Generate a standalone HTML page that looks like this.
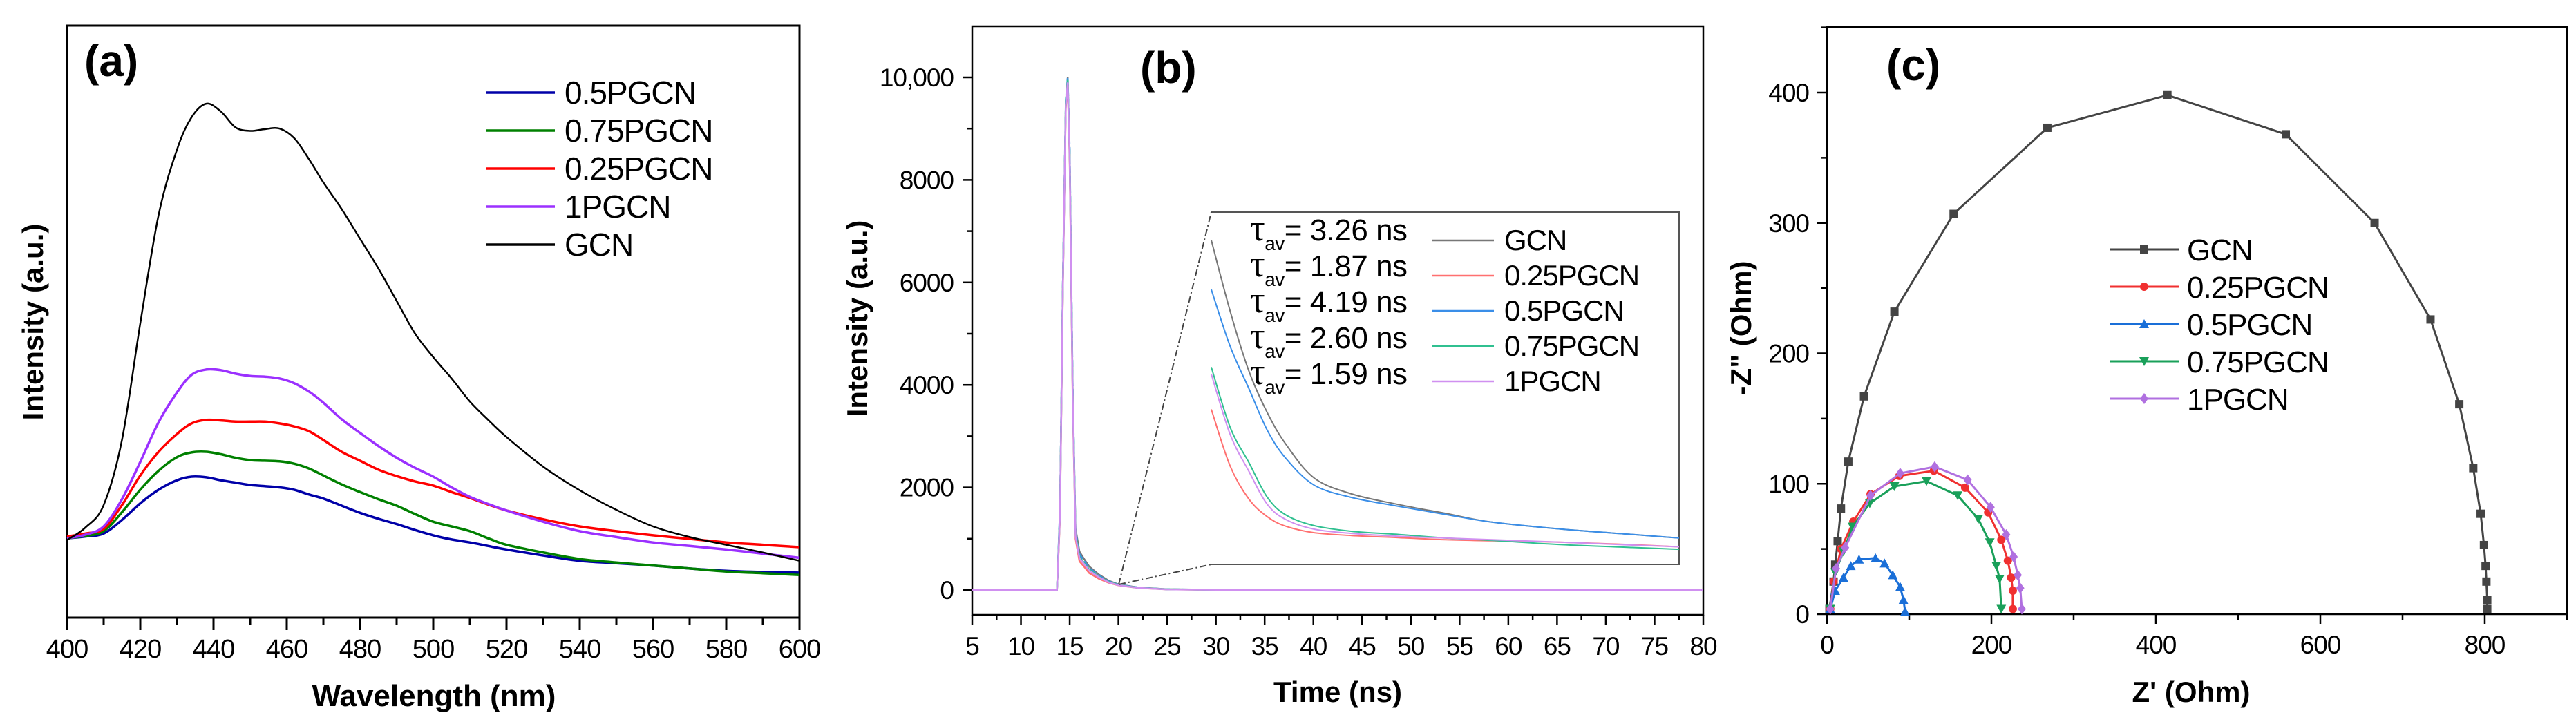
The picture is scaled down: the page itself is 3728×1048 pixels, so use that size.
<!DOCTYPE html>
<html><head><meta charset="utf-8"><style>
html,body{margin:0;padding:0;background:#fff;}
svg{display:block;font-family:"Liberation Sans",Arial,sans-serif;}
</style></head><body>
<svg id="fig" width="3728" height="1048" viewBox="0 0 3728 1048" xmlns="http://www.w3.org/2000/svg"></svg>
<script>
// ---------- Panel (a) data ----------
const aWl = [400,405,410,415,420,425,430,434,438,442,446,450,454,458,462,466,470,475,480,485,490,495,500,505,510,515,520,530,540,550,560,570,580,590,600];
const aGCN = [13.1,15.2,19,30,49.7,68,79,84.5,86.8,85.5,82.8,82.2,82.5,82.6,81,77.5,73.5,69,64,59,53.5,48,44,40.4,36.5,33.4,30.5,25.5,21.5,18.2,15.4,13.6,12.3,11,9.6];
const a1P  = [13.4,14,15.4,20,26.3,33,38,41,41.9,41.8,41.2,40.8,40.7,40.4,39.6,38.2,36.3,33.5,31.2,29,27,25.3,23.8,22,20.4,19.2,18.1,16.2,14.6,13.6,12.7,12.1,11.5,10.8,10.1];
const a025 = [13.7,14.2,15,19,24,28,31,32.8,33.4,33.3,33.1,33.1,33.1,32.8,32.3,31.5,30,28,26.5,25,23.9,23,22.3,21.2,20.2,19.1,18.1,16.6,15.4,14.6,13.9,13.3,12.7,12.3,11.9];
const a075 = [13.4,13.8,14.6,17.8,21.6,24.8,27.1,27.9,28,27.6,27,26.6,26.5,26.4,26,25.2,24,22.5,21.2,20,18.9,17.5,16.2,15.4,14.6,13.4,12.3,11,9.9,9.3,8.8,8.3,7.8,7.5,7.2];
const a05  = [13.4,13.7,14.2,16.5,19.3,21.6,23.2,23.8,23.7,23.2,22.8,22.4,22.2,22,21.6,20.8,20.1,18.9,17.7,16.7,15.8,14.8,13.9,13.2,12.7,12.1,11.5,10.5,9.6,9.2,8.8,8.3,7.9,7.7,7.6];
const aXTicks = [400,420,440,460,480,500,520,540,560,580,600];
// ---------- Panel (b) data ----------
const bT = [5,13.7,14.0,14.3,14.6,14.8,15.0,15.3,15.6,16,16.5,17,18,19,20,22,25,30,80];
const bGCN = [0,0,1500,6000,9500,10000,8500,4000,1200,750,600,460,300,180,110,50,15,5,0];
const b025 = [0,0,1400,5900,9400,9900,8300,3800,1000,560,450,330,220,140,90,40,12,4,0];
const b05  = [0,0,1600,6100,9550,10000,8600,4100,1150,700,560,430,280,170,105,48,14,5,0];
const b075 = [0,0,1500,6000,9500,9950,8450,3950,1100,650,520,400,260,160,100,45,13,4,0];
const b1P  = [0,0,1450,5950,9450,9900,8400,3900,1050,620,500,380,250,150,95,42,12,4,0];
const bXTicks = [5,10,15,20,25,30,35,40,45,50,55,60,65,70,75,80];
const bYTicks = [0,2000,4000,6000,8000,10000];
const bYLabels = ["0","2000","4000","6000","8000","10,000"];
// inset
const iT    = [0,0.04,0.08,0.12,0.16,0.22,0.3,0.4,0.5,0.6,0.75,0.9,1];
const iGCN  = [0.92,0.72,0.55,0.43,0.34,0.245,0.2,0.17,0.145,0.12,0.1,0.085,0.075];
const i05   = [0.78,0.62,0.50,0.38,0.30,0.225,0.19,0.165,0.142,0.12,0.1,0.085,0.075];
const i075  = [0.56,0.39,0.29,0.19,0.14,0.11,0.094,0.085,0.075,0.068,0.056,0.048,0.043];
const i1P   = [0.54,0.37,0.265,0.17,0.127,0.1,0.088,0.08,0.075,0.07,0.063,0.055,0.05];
const i025  = [0.44,0.28,0.186,0.135,0.108,0.09,0.082,0.076,0.07,0.067,0.063,0.056,0.05];
const tauLabels = ["3.26","1.87","4.19","2.60","1.59"];
// ---------- Panel (c) data ----------
const cGCNx = [3,8,10,13,17,26,45,82,154,268,414,558,666,734,769,786,795,799,801,802,803,803];
const cGCNy = [4,25,38,56,81,117,167,232,307,373,398,368,300,226,161,112,77,53,37,25,11,4];
const c025x = [4,8,17,32,53,88,130,168,196,212,220,224,226,226];
const c025y = [4,25,50,71,92,106,110,97,78,57,41,28,18,4];
const c05x  = [4,10,20,29,39,59,70,80,89,93,95];
const c05y  = [4,18,28,37,42,43,39,30,21,11,2];
const c075x = [4,10,20,31,52,82,121,159,184,198,206,210,212];
const c075y = [4,32,48,67,85,98,102,91,73,55,37,27,4];
const c1Px  = [4,11,22,53,89,131,171,199,218,227,232,235,237];
const c1Py  = [4,35,51,91,108,113,103,82,61,44,30,20,4];
const cXTicks = [0,200,400,600,800];
const cYTicks = [0,100,200,300,400];

const NS="http://www.w3.org/2000/svg";
const svg=document.getElementById('fig');
function el(tag,attrs,parent,text){const e=document.createElementNS(NS,tag);for(const k in attrs)e.setAttribute(k,attrs[k]);if(text!==undefined)e.textContent=text;(parent||svg).appendChild(e);return e;}
function grp(name){const g=el('g',{});


return g;}
function pathD(xs,ys,fx,fy){return xs.map((x,i)=>(i?'L':'M')+fx(x).toFixed(1)+' '+fy(ys[i]).toFixed(1)).join(' ');}
function smoothD(xs,ys,fx,fy){const P=xs.map((x,i)=>[fx(x),fy(ys[i])]);let d='M'+P[0][0].toFixed(1)+' '+P[0][1].toFixed(1);
for(let i=0;i<P.length-1;i++){const p0=P[Math.max(0,i-1)],p1=P[i],p2=P[i+1],p3=P[Math.min(P.length-1,i+2)];
const c1=[p1[0]+(p2[0]-p0[0])/6,p1[1]+(p2[1]-p0[1])/6],c2=[p2[0]-(p3[0]-p1[0])/6,p2[1]-(p3[1]-p1[1])/6];
d+=` C${c1[0].toFixed(1)} ${c1[1].toFixed(1)} ${c2[0].toFixed(1)} ${c2[1].toFixed(1)} ${p2[0].toFixed(1)} ${p2[1].toFixed(1)}`;}return d;}

// ================= Panel A =================
(function(){
const L=97,R=1157,T=37,B=894;
const fx=v=>L+(v-400)/200*(R-L), fy=v=>B-v*(B-T)/100;
const g=grp('panel-a');
const fr=el('rect',{x:L,y:T,width:R-L,height:B-T,fill:'none',stroke:'#000','stroke-width':3},g);


for(let v=400;v<=600;v+=10){const maj=v%20===0;el('line',{x1:fx(v),x2:fx(v),y1:B,y2:B+(maj?18:10),stroke:'#000','stroke-width':3},g);}
aXTicks.forEach(v=>{const t=el('text',{x:fx(v),y:952,'font-size':38,'text-anchor':'middle','letter-spacing':-1},g,String(v));

});
const series=[[a05,'#0000a8'],[a075,'#008000'],[a025,'#ff0000'],[a1P,'#9b30ff'],[aGCN,'#000']];
const names=['0.5PGCN','0.75PGCN','0.25PGCN','1PGCN','GCN'];
series.forEach((s,i)=>{const p=el('path',{d:smoothD(aWl,s[0],fx,fy),fill:'none',stroke:s[1],'stroke-width':i===4?2.5:3.5,'stroke-linejoin':'round'},g);

});
names.forEach((n,i)=>{const y=134+i*55;
el('line',{x1:703,x2:803,y1:y,y2:y,stroke:series[i][1],'stroke-width':3.5},g);
const t=el('text',{x:817,y:y+16,'font-size':46,'letter-spacing':-1},g,n);

});
const lab=el('text',{x:122,y:110,'font-size':64,'font-weight':'bold'},g,'(a)');


const xt=el('text',{x:628,y:1022,'font-size':44,'font-weight':'bold','text-anchor':'middle'},g,'Wavelength (nm)');


const yt=el('text',{x:0,y:0,'font-size':42,'font-weight':'bold','text-anchor':'middle',transform:'translate(62,466) rotate(-90)'},g,'Intensity (a.u.)');


})();

// ================= Panel B =================
(function(){
const L=1407,R=2465,T=38,B=890;
const fx=v=>L+(v-5)/75*(R-L), fy=v=>854-v*0.0742;
const g=grp('panel-b');
const fr=el('rect',{x:L,y:T,width:R-L,height:B-T,fill:'none',stroke:'#000','stroke-width':2.5},g);


for(let v=5;v<=80;v+=2.5){const maj=(v%5===0);el('line',{x1:fx(v),x2:fx(v),y1:B,y2:B+(maj?14:8),stroke:'#000','stroke-width':2.5},g);}
for(let v=0;v<=10000;v+=1000){const maj=v%2000===0;el('line',{x1:L,x2:L-(maj?14:8),y1:fy(v),y2:fy(v),stroke:'#000','stroke-width':2.5},g);}
bXTicks.forEach(v=>{const t=el('text',{x:fx(v),y:948,'font-size':37,'text-anchor':'middle','letter-spacing':-1},g,String(v));

});
bYTicks.forEach((v,i)=>{const t=el('text',{x:1380,y:fy(v)+13,'font-size':37,'text-anchor':'end','letter-spacing':-1},g,bYLabels[i]);

});
const cols=['#777','#ff7070','#3a8ee8','#30c090','#d090f0'];
const names=['GCN','0.25PGCN','0.5PGCN','0.75PGCN','1PGCN'];
[bGCN,b025,b05,b075,b1P].forEach((s,i)=>{const p=el('path',{d:pathD(bT,s,fx,fy),fill:'none',stroke:cols[i],'stroke-width':2.5,'stroke-dasharray':i===2?'10 4':'none'},g);

});
// inset
const IL=1753,IR=2430,IT=307,IB=817;
const ix=v=>IL+v*(IR-IL), iy=v=>IB-v*(IB-IT);
el('path',{d:`M${IL} ${IT} L${IR} ${IT} L${IR} ${IB} L${IL} ${IB}`,fill:'none',stroke:'#555','stroke-width':2},g);
el('line',{x1:1619,y1:846,x2:IL,y2:IT,stroke:'#444','stroke-width':2,'stroke-dasharray':'10 4 2 4'},g);
el('line',{x1:1619,y1:846,x2:IL,y2:IB,stroke:'#444','stroke-width':2,'stroke-dasharray':'10 4 2 4'},g);
[iGCN,i025,i05,i075,i1P].forEach((s,i)=>{const p=el('path',{d:smoothD(iT,s,ix,iy),fill:'none',stroke:cols[i],'stroke-width':2},g);

});
tauLabels.forEach((v,i)=>{const y=348+i*52;
const t=el('text',{x:1809,y:y,'font-size':44,'letter-spacing':-0.5},g);


el('tspan',{'font-family':'"Liberation Serif",serif','font-size':54},t,'τ');
el('tspan',{'font-size':28,dy:14},t,'av');
el('tspan',{dy:-14},t,'= '+v+' ns');});
names.forEach((n,i)=>{const y=362+i*51;
el('line',{x1:2072,x2:2162,y1:y-14,y2:y-14,stroke:cols[i],'stroke-width':2.5},g);
const t=el('text',{x:2177,y:y,'font-size':42,'letter-spacing':-1},g,n);

});
const lab=el('text',{x:1650,y:120,'font-size':64,'font-weight':'bold'},g,'(b)');


const xt=el('text',{x:1936,y:1016,'font-size':42,'font-weight':'bold','text-anchor':'middle'},g,'Time (ns)');


const yt=el('text',{x:0,y:0,'font-size':42,'font-weight':'bold','text-anchor':'middle',transform:'translate(1255,461) rotate(-90)'},g,'Intensity (a.u.)');


})();

// ================= Panel C =================
(function(){
const L=2644,R=3715,T=39,B=889;
const fx=v=>L+v*1.19, fy=v=>B-v*1.8875;
const g=grp('panel-c');
const fr=el('rect',{x:L,y:T,width:R-L,height:B-T,fill:'none',stroke:'#000','stroke-width':2.5},g);


for(let v=0;v<=900;v+=100){const maj=v%200===0;el('line',{x1:fx(v),x2:fx(v),y1:B,y2:B+(maj?14:8),stroke:'#000','stroke-width':2.5},g);}
for(let v=0;v<=450;v+=50){const maj=v%100===0;el('line',{x1:L,x2:L-(maj?14:8),y1:fy(v),y2:fy(v),stroke:'#000','stroke-width':2.5},g);}
cXTicks.forEach(v=>{const t=el('text',{x:fx(v),y:946,'font-size':37,'text-anchor':'middle','letter-spacing':-1},g,String(v));

});
cYTicks.forEach(v=>{const t=el('text',{x:2618,y:fy(v)+13,'font-size':37,'text-anchor':'end','letter-spacing':-1},g,String(v));

});
const cols=['#444','#f03030','#1a6fd8','#1aa05a','#b070e0'];
const names=['GCN','0.25PGCN','0.5PGCN','0.75PGCN','1PGCN'];
const shapes=['sq','ci','tu','td','di'];
function marker(shape,x,y,c,parent){const s=6;
if(shape==='sq')return el('rect',{x:x-s,y:y-s,width:2*s,height:2*s,fill:c},parent);
if(shape==='ci')return el('circle',{cx:x,cy:y,r:s,fill:c},parent);
if(shape==='tu')return el('path',{d:`M${x} ${y-s-1} L${x+s+1} ${y+s} L${x-s-1} ${y+s}Z`,fill:c},parent);
if(shape==='td')return el('path',{d:`M${x} ${y+s+1} L${x+s+1} ${y-s} L${x-s-1} ${y-s}Z`,fill:c},parent);
return el('path',{d:`M${x} ${y-s-2} L${x+s} ${y} L${x} ${y+s+2} L${x-s} ${y}Z`,fill:c},parent);}
[[cGCNx,cGCNy],[c025x,c025y],[c05x,c05y],[c075x,c075y],[c1Px,c1Py]].forEach((s,i)=>{
const p=el('path',{d:pathD(s[0],s[1],fx,fy),fill:'none',stroke:cols[i],'stroke-width':3},g);


s[0].forEach((x,j)=>{const m=marker(shapes[i],fx(x),fy(s[1][j]),cols[i],g);

});});
names.forEach((n,i)=>{const y=361+i*54;
el('line',{x1:3053,x2:3153,y1:y,y2:y,stroke:cols[i],'stroke-width':3},g);
marker(shapes[i],3103,y,cols[i],g);
const t=el('text',{x:3165,y:y+16,'font-size':44,'letter-spacing':-1},g,n);

});
const lab=el('text',{x:2730,y:116,'font-size':64,'font-weight':'bold'},g,'(c)');


const xt=el('text',{x:3171,y:1016,'font-size':42,'font-weight':'bold','text-anchor':'middle'},g,"Z' (Ohm)");


const yt=el('text',{x:0,y:0,'font-size':42,'font-weight':'bold','text-anchor':'middle',transform:'translate(2534,475) rotate(-90)'},g,'-Z" (Ohm)');


})();
</script>
</body></html>
